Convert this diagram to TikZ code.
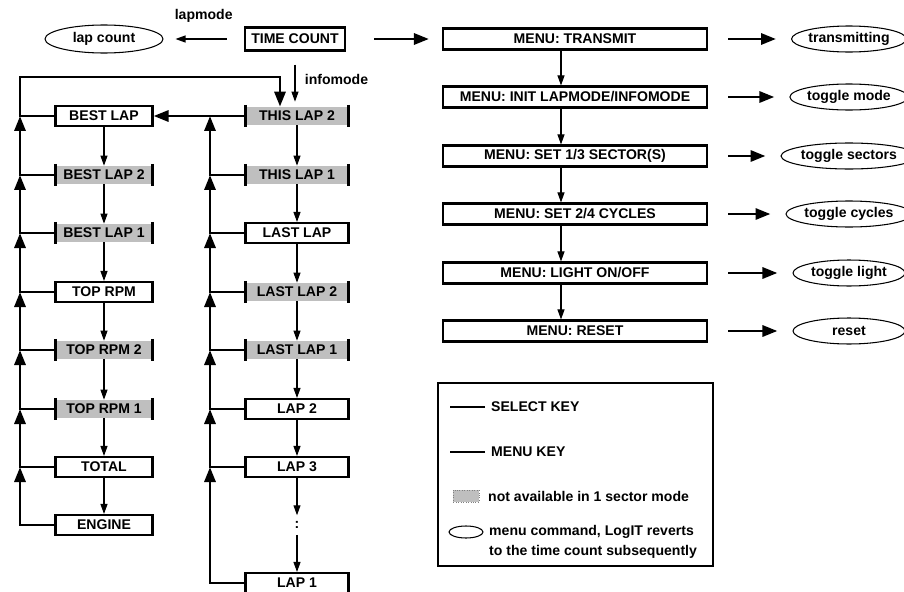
\documentclass[tikz,border=0pt]{standalone}
\usepackage{fontspec}
\setmainfont{Liberation Sans}
\usetikzlibrary{arrows.meta,shapes.geometric}

\colorlet{boxGray}{gray!50}

\tikzset{
  lbl/.style={font=\bfseries\fontsize{8}{9}\selectfont},
  wbox/.style={lbl, draw, line width=1.2pt, minimum height=0.4cm, inner sep=0pt},
  gbox/.style={lbl, fill=boxGray, minimum height=0.36cm, inner sep=0pt},
  lbox/.style={minimum width=1.94cm},
  rbox/.style={minimum width=2.06cm},
  mbox/.style={wbox, minimum width=5.28cm, minimum height=0.42cm},
  cmd/.style={lbl, draw, ellipse, line width=0.6pt, minimum width=2.24cm,
              minimum height=0.52cm, inner sep=0pt},
  sel/.style={line width=0.6pt, -{Triangle[length=0.2cm,width=0.14cm]}},
  menu/.style={line width=1.7pt, -{Triangle[length=0.3cm,width=0.22cm]}},
  bar/.style={line width=1.7pt},
}

\begin{document}
\begin{tikzpicture}[x=0.02cm, y=-0.02cm]
        \useasboundingbox (0,0) rectangle (904,592);
        % top row
        \node[cmd, minimum width=2.36cm, minimum height=0.56cm] (lc) at (104,39){lap count};
        \node[wbox, minimum width=2cm, minimum height=0.46cm] (tc) at (295,39){TIME COUNT};
        \coordinate (L) at (20,0);
        \coordinate (R) at (210,0);
        \coordinate (top) at (20,77);
        % left column
        \node[wbox, lbox] (bl1)  at (104,116){BEST LAP};
        \node[gbox, lbox] (bl2)  at (104,175){BEST LAP 2};
        \node[gbox, lbox] (bl3)  at (104,233){BEST LAP 1};
        \node[wbox, lbox] (rpm1) at (104,292){TOP RPM};
        \node[gbox, lbox] (rpm2) at (104,350){TOP RPM 2};
        \node[gbox, lbox] (rpm3) at (104,409){TOP RPM 1};
        \node[wbox, lbox] (tot)  at (104,467){TOTAL};
        \node[wbox, lbox] (eng)  at (104,525){ENGINE};
        % right column
        \node[gbox, rbox] (t2)   at (297,116){THIS LAP 2};
        \node[gbox, rbox] (t1)   at (297,175){THIS LAP 1};
        \node[wbox, rbox] (ll)   at (297,233){LAST LAP};
        \node[gbox, rbox] (ll2)  at (297,292){LAST LAP 2};
        \node[gbox, rbox] (ll1)  at (297,350){LAST LAP 1};
        \node[wbox, rbox] (lap2) at (297,409){LAP 2};
        \node[wbox, rbox] (lap3) at (297,467){LAP 3};
        \node[lbl] (dots)        at (297,525){:};
        \node[wbox, rbox] (lapn) at (297,583){LAP 1};
        \foreach \n in {bl2,bl3,rpm2,rpm3,t2,t1,ll2,ll1}
          \draw[bar] ([yshift=1pt]\n.north west)--([yshift=-1pt]\n.south west)
                     ([yshift=1pt]\n.north east)--([yshift=-1pt]\n.south east);
        % menu column
        \node[mbox] (m1) at (575,39){MENU: TRANSMIT};
        \node[mbox] (m2) at (575,97){MENU: INIT LAPMODE/INFOMODE};
        \node[mbox] (m3) at (575,156){MENU: SET 1/3 SECTOR(S)};
        \node[mbox] (m4) at (575,214){MENU: SET 2/4 CYCLES};
        \node[mbox] (m5) at (575,273){MENU: LIGHT ON/OFF};
        \node[mbox] (m6) at (575,331){MENU: RESET};
        \node[cmd] (e1) at (849,39){transmitting};
        \node[cmd] (e2) at (849,97){toggle mode};
        \node[cmd] (e3) at (849,156){toggle sectors};
        \node[cmd] (e4) at (849,214){toggle cycles};
        \node[cmd] (e5) at (849,273){toggle light};
        \node[cmd] (e6) at (849,331){reset};
        % select key arrows
        \draw[sel, shorten <=0.34cm, shorten >=0.24cm](tc)--(lc)
              node[midway, above=6pt, lbl]{lapmode};
        \draw[sel, shorten <=0.26cm, shorten >=0.1cm](tc.south)--(tc.south |- t2.north)
              node[midway, right=2pt, lbl]{infomode};
        \foreach \a/\b in {bl1/bl2,bl2/bl3,bl3/rpm1,rpm1/rpm2,rpm2/rpm3,rpm3/tot,tot/eng,
                           t2/t1,t1/ll,ll/ll2,ll2/ll1,ll1/lap2,lap2/lap3,lap3/dots,dots/lapn}
          \draw[sel](\a)--(\b);
        \foreach \a/\b in {1/2,2/3,3/4,4/5,5/6}
          \draw[sel]([xshift=-0.28cm]m\a.south)--([xshift=-0.28cm]m\b.north);
        % menu key arrows
        \draw[menu, shorten <=0.56cm, shorten >=0.26cm](tc)--(m1);
        \foreach \i in {1,...,6}
          \draw[menu, shorten <=0.4cm, shorten >=0.3cm](m\i)--(e\i);
        \foreach \a/\b in {bl2/bl1,bl3/bl2,rpm1/bl3,rpm2/rpm1,rpm3/rpm2,tot/rpm3,eng/tot}
          \draw[menu](\a.west) -| (L |- \b.west);
        \foreach \a/\b in {t1/t2,ll/t1,ll2/ll,ll1/ll2,lap2/ll1,lap3/lap2,lapn/lap3}
          \draw[menu](\a.west) -| (R |- \b.west);
        \draw[menu](t2)--(bl1);
        \draw[menu](bl1.west) -| (top) -| ([xshift=-0.34cm]t2.north);
        % legend
        \draw[line width=0.6pt](438,383) rectangle (713,566);
        \node[lbl, anchor=west] (kSel)  at (485,407){SELECT KEY};
        \node[lbl, anchor=west] (kMenu) at (485,452){MENU KEY};
        \node[lbl, anchor=west] (kGray) at (482,496){not available in 1 sector mode};
        \node[lbl, anchor=west] (kCmd)  at (483,532){menu command, LogIT reverts};
        \node[lbl, anchor=west] (kCmd2) at (483,552){to the time count subsequently};
        \draw[line width=0.6pt](kSel.west)--++(-0.7cm,0);
        \draw[line width=1.7pt](kMenu.west)--++(-0.7cm,0);
        \draw[fill=boxGray, draw=gray, densely dotted](453,490) rectangle (479,502);
        \node[draw, ellipse, line width=0.6pt, minimum width=0.68cm, minimum height=0.24cm,
              inner sep=0pt] (kEll) at (466,532){};
      \end{tikzpicture}
\end{document}
